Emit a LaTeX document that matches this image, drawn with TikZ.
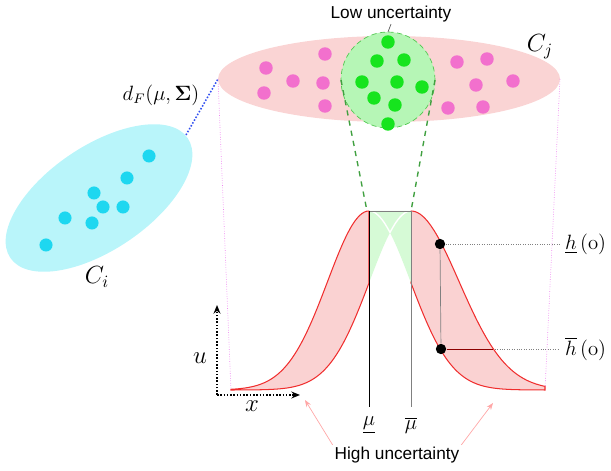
\documentclass[tikz,border=0pt]{standalone}
\usepackage{amsmath,amssymb}
\usepackage{fontspec}
\newfontfamily\labelfont{Liberation Sans}
\usepackage{tikz}
\usetikzlibrary{positioning}
\usetikzlibrary{shapes,calc,arrows.meta}
\definecolor{cjfill}{RGB}{250,212,212}
\definecolor{cjdot}{RGB}{242,112,205}
\definecolor{lowfill}{RGB}{182,246,182}
\definecolor{lowedge}{RGB}{80,200,80}
\definecolor{lowdot}{RGB}{22,228,30}
\definecolor{cifill}{RGB}{185,245,250}
\definecolor{cidot}{RGB}{30,215,240}
\definecolor{bandfill}{RGB}{250,210,210}
\definecolor{bandline}{RGB}{240,45,45}
\definecolor{wedgefill}{RGB}{214,250,214}
\definecolor{fdist}{RGB}{50,80,240}
\definecolor{proj}{RGB}{238,130,240}
\tikzset{
	semithick,
	pinkdot/.style = {circle, fill=cjdot, inner sep=0pt, minimum size=7.8pt, node contents={}},
	greendot/.style = {circle, fill=lowdot, inner sep=0pt, minimum size=7.8pt, node contents={}},
	cyandot/.style = {circle, fill=cidot, inner sep=0pt, minimum size=7.6pt, node contents={}},
	blackdot/.style = {circle, fill=black, inner sep=0pt, minimum size=6pt, node contents={}},
	txt/.style = {font=\labelfont, inner sep=1pt},
	band/.style = {draw=bandline, fill=bandfill, line width=0.6pt},
	axis/.style = {densely dotted, line width=0.9pt, -{Stealth[length=5pt,width=4pt]}},
	hiarrow/.style = {red!35, thin, -{Stealth[length=4pt,width=3pt]}},
	guide/.style = {gray, densely dotted, thin},
	declare function = {
		gl(\t) = 81+179*exp(-0.5*((\t-369)/41.4)^2);
		gr(\t) = 81+179*exp(-0.5*((\t-411)/41.4)^2);
		gw(\t) = 81+179*exp(-0.5*((\t-411)/48)^2);
	},
}

\begin{document}
\begin{tikzpicture}[x=0.58pt, y=0.58pt]
	\useasboundingbox (0,0) rectangle (611,471);

	% cluster C_j
	\fill[cjfill] (389,392) ellipse [x radius=171, y radius=43];
	\coordinate (Cjw) at (218,392);
	\coordinate (Cje) at (560,392);
	\foreach \px/\py [count=\i] in {266/403, 264/378, 293/390, 325/417, 323/388, 325/365,
	                               457/409, 487/412, 513/390, 476/386, 448/363, 483/364}
		\node (pd\i) at (\px,\py) [pinkdot];
	\node at (540,424) (Cj) {\Large $C_j$};

	% low uncertainty part
	\filldraw[fill=lowfill, draw=lowedge, densely dashed, line width=0.4pt]
		(388,391) ellipse [x radius=47, y radius=48];
	\coordinate (lowtop) at (388,439);
	\coordinate (loww) at (341,391);
	\coordinate (lowe) at (435,391);
	\foreach \px/\py [count=\i] in {388/429, 377/410, 404/411, 362/389, 397/389,
	                               422/384, 374/373, 395/366, 388/347}
		\node (gd\i) at (\px,\py) [greendot];
	\node at (391,457) (low) [txt] {Low uncertainty};
	\draw[thin, gray!70!black] (low.south) -- (lowtop);

	% cluster C_i
	\fill[cifill, rotate around={34:(99,273)}] (99,273) ellipse [x radius=107, y radius=52];
	\coordinate (Cie) at (186,336);
	\foreach \px/\py [count=\i] in {149/315, 127/293, 94/278, 103/264, 123/264,
	                               65/253, 92/248, 46/226}
		\node (cd\i) at (\px,\py) [cyandot];
	\node at (97,194) (Ci) {\Large $C_i$};
	\node at (161,376) (dist) {\large $d_F(\mu,\boldsymbol{\Sigma})$};
	\draw[fdist, densely dotted, line width=0.9pt] (Cie) -- (Cjw);

	% membership bands
	\coordinate (bandL) at (231,81);
	\coordinate (bandR) at (545,81);
	\coordinate (peakL) at (367,260);
	\coordinate (peakR) at (411,260);
	\draw[proj, densely dotted, thin] (Cjw) -- (bandL);
	\draw[proj, densely dotted, thin] (Cje) -- (bandR);
	\draw[band] plot[domain=231:369, samples=60] (\x,{gl(\x)})
		-- plot[domain=369:231, samples=60] (\x,{gr(\x)}) -- cycle;
	\draw[band] plot[domain=411:545, samples=60] (\x,{gw(\x)})
		-- plot[domain=545:411, samples=60] (\x,{gl(\x)}) -- cycle;
	\fill[wedgefill] (369,260) -- (411,260)
		-- plot[domain=411:390, samples=30] (\x,{gl(\x)})
		-- plot[domain=390:369, samples=30] (\x,{gr(\x)}) -- cycle;
	\draw[white, line width=0.8pt] plot[domain=369:390, samples=30] (\x,{gl(\x)});
	\draw[white, line width=0.8pt] plot[domain=390:411, samples=30] (\x,{gr(\x)});
	\draw[lowedge!80!black, dashed, line width=0.8pt] (loww) -- (peakL);
	\draw[lowedge!80!black, dashed, line width=0.8pt] (lowe) -- (peakR);

	% means
	\coordinate (mlo) at (369,260);
	\coordinate (mup) at (411,260);
	\node[anchor=north, inner ysep=5.5pt] at (369,64) (mulow) {\large $\underline{\mu}$};
	\node[anchor=north, inner ysep=5.5pt] at (411,64) (muup) {\large $\overline{\mu}$};
	\draw[gray, thin] (mlo) -- (mup);
	\draw[black, thin] (mlo) -- (mulow.north);
	\draw[gray, thin] (mup) -- (muup.north);

	% secondary grades
	\node (hup) at (440,227) [blackdot];
	\node (hlo) at (441,122) [blackdot];
	\coordinate (hcut) at (493,122);
	\node[anchor=west] at (559,227) (hupl) {\large $\underline{h}\,(\mathrm{o})$};
	\node[anchor=west] at (559,122) (hlol) {\large $\overline{h}\,(\mathrm{o})$};
	\draw[gray, thin] (hup) -- (hlo);
	\draw[guide] (hup) -- (hupl.west);
	\draw[guide] (hlo) -- (hlol.west);
	\draw[red!55!black, thin] (hlo) -- (hcut);

	% axes
	\coordinate (origin) at (217,76);
	\coordinate (utip) at (217,166);
	\coordinate (xtip) at (300,76);
	\draw[axis] (origin) -- (utip);
	\draw[axis] (origin) -- (xtip);
	\node at (200,113) (ulab) {\Large $u$};
	\node at (252,65) (xlab) {\Large $x$};

	% high uncertainty
	\coordinate (hiL) at (305,71);
	\coordinate (hiR) at (493,68);
	\node at (397,16) (high) [txt] {High uncertainty};
	\draw[hiarrow] (high.north west) -- (hiL);
	\draw[hiarrow] (high.north east) -- (hiR);
\end{tikzpicture}
\end{document}
